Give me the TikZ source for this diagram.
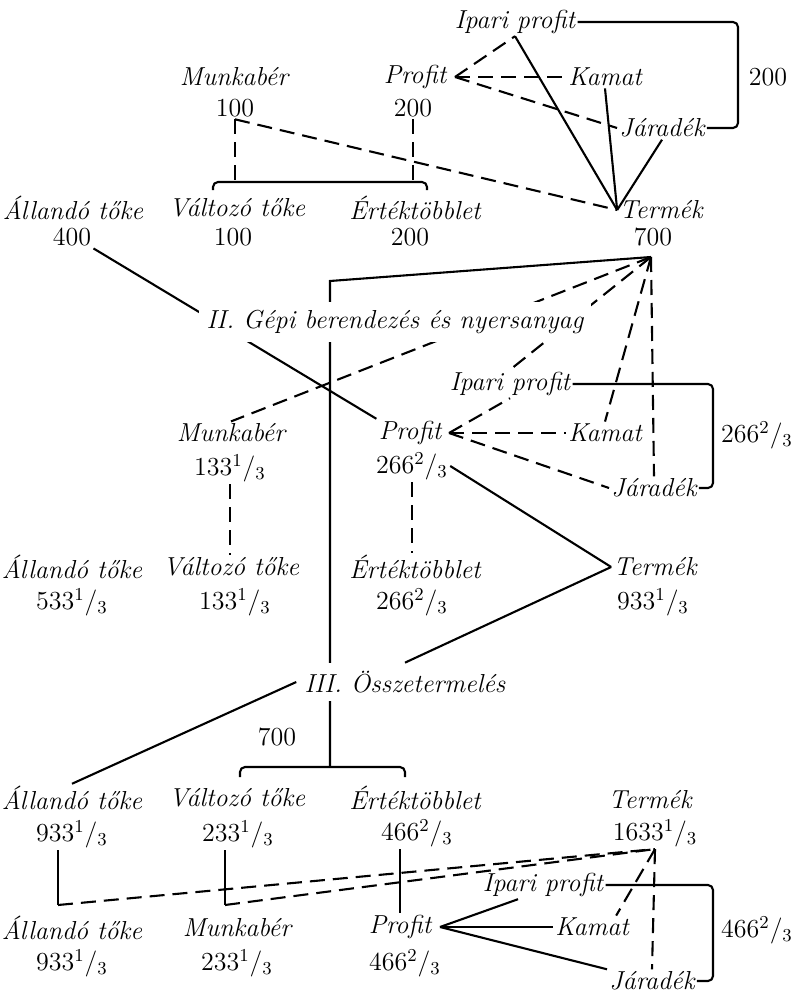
\documentclass[tikz,border=0pt]{standalone}
\usetikzlibrary{calc,backgrounds}
\newcommand{\tort}[2]{#1\textsuperscript{#2}/\textsubscript{3}}

\begin{document}
\begin{tikzpicture}[x=0.5pt,y=-0.5pt,
  every node/.style={font=\fontsize{13}{15}\selectfont,inner sep=1pt},
  szo/.style={font=\fontsize{13}{15}\selectfont\itshape},
  cim/.style={szo,fill=white,inner sep=4pt},
  vonal/.style={line width=1.05pt},
  szagg/.style={vonal,dash pattern=on 7.5pt off 4pt},
  kapocs/.style={vonal,rounded corners=2.5pt}]
\useasboundingbox (0,0) rectangle (796,995);
% I.
\node[szo] (ip1) at (515,22) {Ipari profit};
\node[szo] (pr1) at (415,77) {Profit};
\node[szo] (ka1) at (605,77) {Kamat};
\node[szo] (ja1) at (662,128) {Járadék};
\node[szo] (mu1) at (234,77) {Munkabér};
\node (mu1v) at (235,108) {100};
\node (pr1v) at (413,108) {200};
\node[szo] (al1) at (73,208) {Állandó tőke};
\node (al1v) at (72,237) {400};
\node[szo] (vt1) at (237,208) {Változó tőke};
\node (vt1v) at (233,237) {100};
\node[szo] (et1) at (415,208) {Értéktöbblet};
\node (et1v) at (410,237) {200};
\node[szo] (te1) at (661,210) {Termék};
\node (te1v) at (653,237) {700};
\node (s1) at (768,77) {200};
\coordinate (tip1) at (455,77);
\coordinate (br1) at (738,0);
\coordinate (b1l) at (213,182);
\coordinate (b1r) at (427,182);
\draw[szagg] (tip1) -- (ip1.south);
\draw[szagg] (tip1) -- (ka1.west);
\draw[szagg] (tip1) -- (ja1.west);
\draw[vonal] (ip1.south) -- (te1.west);
\draw[vonal] (ka1.south) -- (te1.west);
\draw[vonal] (ja1.south) -- (te1.west);
\draw[szagg] (mu1v.south) -- (te1.west);
\draw[szagg] (mu1v.south) -- (mu1v.south |- b1l);
\draw[szagg] (pr1v.south) -- (pr1v.south |- b1r);
\draw[kapocs] ($(b1l)+(0,8)$) -- (b1l) -- (b1r) -- ($(b1r)+(0,8)$);
\draw[kapocs] (ip1.east) -- (ip1.east -| br1) -- (ja1.east -| br1) -- (ja1.east);
% II.
\coordinate (t7) at (651,257);
\coordinate (k2) at (330,281);
\node[cim] (g2) at (395,322) {II. Gépi berendezés és nyersanyag};
\node[szo] (ip2) at (510,384) {Ipari profit};
\node[szo] (mu2) at (231,433) {Munkabér};
\node (mu2v) at (230,468) {\tort{133}{1}};
\node[szo] (pr2) at (410,433) {Profit};
\node (pr2v) at (412,466) {\tort{266}{2}};
\node[szo] (ka2) at (605,433) {Kamat};
\node[szo] (ja2) at (654,488) {Járadék};
\node (s2) at (757,435) {\tort{266}{2}};
\node[szo] (al2) at (72,567) {Állandó tőke};
\node (al2v) at (72,602) {\tort{533}{1}};
\node[szo] (vt2) at (231,567) {Változó tőke};
\node (vt2v) at (235,602) {\tort{133}{1}};
\node[szo] (et2) at (415,567) {Értéktöbblet};
\node (et2v) at (412,602) {\tort{266}{2}};
\node[szo] (te2) at (655,567) {Termék};
\node (te2v) at (653,602) {\tort{933}{1}};
\coordinate (tip2) at (449,433);
\coordinate (br2) at (713,0);
\draw[szagg] (t7) -- (ka2.north);
\draw[szagg] (t7) -- (ja2.north);
\draw[szagg] (tip2) -- (ip2.south);
\draw[szagg] (tip2) -- (ka2.west);
\draw[szagg] (tip2) -- (ja2.west);
\draw[kapocs] (ip2.east) -- (ip2.east -| br2) -- (ja2.east -| br2) -- (ja2.east);
\draw[vonal] (pr2v.east) -- (te2.west);
\draw[szagg] (mu2v.south) -- (mu2v.south |- vt2.north);
\draw[szagg] (pr2v.south) -- (pr2v.south |- et2.north);
% III.
\node[cim] (g3) at (405,682) {III. Összetermelés};
\node (n700) at (277,737) {700};
\coordinate (b3l) at (240,767);
\coordinate (b3r) at (405,767);
\node[szo] (al3) at (72,798) {Állandó tőke};
\node (al3v) at (72,834) {\tort{933}{1}};
\node[szo] (vt3) at (237,798) {Változó tőke};
\node (vt3v) at (238,834) {\tort{233}{1}};
\node[szo] (et3) at (415,798) {Értéktöbblet};
\node (et3v) at (417,833) {\tort{466}{2}};
\node[szo] (te3) at (650,800) {Termék};
\node (te3v) at (655,833) {\tort{1633}{1}};
\node[szo] (ip4) at (543,885) {Ipari profit};
\node[szo] (al4) at (72,928) {Állandó tőke};
\node (al4v) at (72,963) {\tort{933}{1}};
\node[szo] (mu4) at (237,928) {Munkabér};
\node (mu4v) at (237,963) {\tort{233}{1}};
\node[szo] (pr4) at (400,927) {Profit};
\node (pr4v) at (405,963) {\tort{466}{2}};
\node[szo] (ka4) at (592,927) {Kamat};
\node[szo] (ja4) at (652,981) {Járadék};
\node (s4) at (757,930) {\tort{466}{2}};
\coordinate (tip4) at (440,927);
\coordinate (br4) at (713,0);
\coordinate (c4a) at (58,905);
\coordinate (c4b) at (225,905);
\draw[vonal] (g3.north) -- (te2.west);
\draw[vonal] (g3.west) -- (al3.north);
\draw[kapocs] ($(b3l)+(0,10)$) -- (b3l) -- (b3r) -- ($(b3r)+(0,10)$);
\draw[vonal] (al3v.south -| c4a) -- (c4a);
\draw[szagg] (c4a) -- (te3v.south);
\draw[vonal] (vt3v.south -| c4b) -- (c4b);
\draw[szagg] (c4b) -- (te3v.south);
\draw[vonal] (et3v.south -| pr4) -- (pr4.north);
\draw[vonal] (tip4) -- ($(ip4.south)+(-25,0)$);
\draw[vonal] (tip4) -- (ka4.west);
\draw[vonal] (tip4) -- (ja4.north west);
\draw[kapocs] (ip4.east) -- (ip4.east -| br4) -- (ja4.east -| br4) -- (ja4.east);
\draw[szagg] (te3v.south) -- ($(ka4.north east)+(-15,0)$);
\draw[szagg] (te3v.south) -- (ja4.north);
% lines behind the two titles
\begin{scope}[on background layer]
\draw[vonal] (t7) -- (k2) -- (k2 |- b3l);
\draw[vonal] (al1v.south east) -- (pr2.north west);
\draw[szagg] (t7) -- (mu2.north);
\draw[szagg] (t7) -- (ip2.north);
\end{scope}
\end{tikzpicture}
\end{document}
